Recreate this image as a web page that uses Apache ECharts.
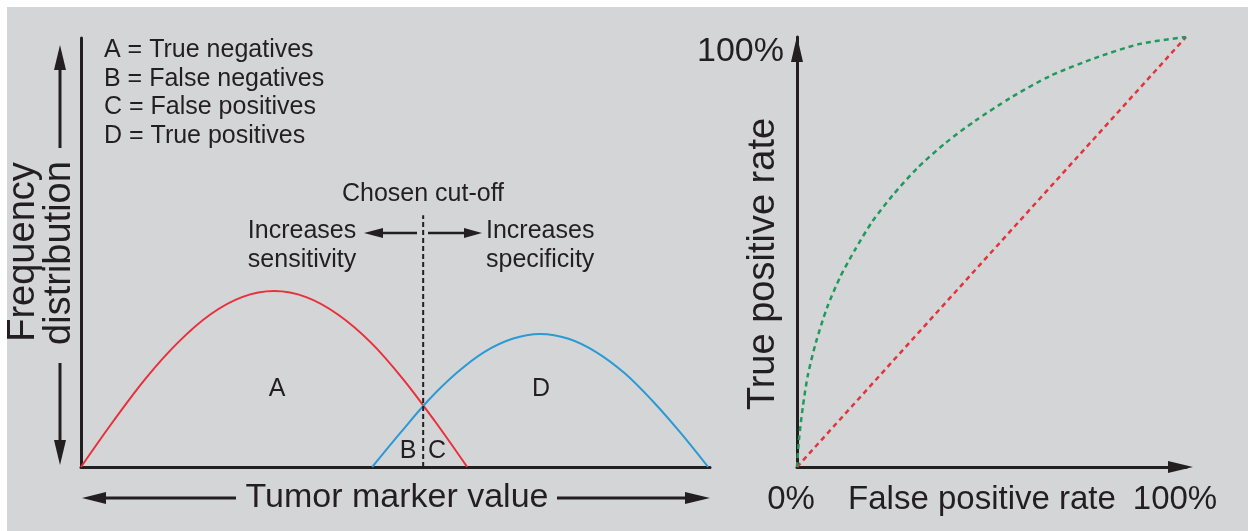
<!DOCTYPE html>
<html>
<head>
<meta charset="utf-8">
<script src="https://cdn.jsdelivr.net/npm/echarts@6/dist/echarts.min.js"></script>
<style>
  html, body { margin: 0; padding: 0; background: #ffffff; }
  #wrap { position: relative; width: 1248px; height: 531px; overflow: hidden; }
  #bg { position: absolute; left: 7px; top: 7px; width: 1241px; height: 524px; background: #d4d5d7; }
  #chart { position: absolute; left: 0; top: 0; width: 1248px; height: 531px; }
</style>
</head>
<body>
<div id="wrap"><div id="bg"></div><div id="chart"></div></div>
<script>
// ---- data ----
// Left panel: frequency distributions vs tumor marker value (0..100 scale)
const negX = [0, 5.1, 10.2, 15.4, 20.5, 25.6, 30.7, 35.8, 40.9, 46.1, 51.2, 56.3, 61.4];
const negY = [0, 10.6, 20.5, 29.0, 35.5, 39.6, 41.0, 39.6, 35.5, 29.0, 20.5, 10.6, 0];
const posX = [46.3, 50.8, 55.2, 59.7, 64.1, 68.6, 73.0, 77.5, 81.9, 86.4, 90.8, 95.3, 99.7];
const posY = [0, 8.0, 15.5, 21.9, 26.8, 29.9, 31.0, 29.9, 26.8, 21.9, 15.5, 8.0, 0];
const cutoffX = [54.4, 54.4];
const cutoffY = [0, 58.7];
// Right panel: ROC curve (false positive rate vs true positive rate, %)
const rocX = [0, 0.5, 1.5, 2.8, 4.9, 7.7, 11.1, 14.9, 19.3, 24.7, 30.9, 38.1, 45.8, 54.8, 65.0, 76.6, 88.2, 100];
const rocY = [0, 6.3, 14.0, 21.4, 29.1, 37.0, 44.2, 50.5, 57.0, 63.3, 69.5, 75.3, 80.5, 85.8, 90.9, 95.1, 98.4, 100];
const chanceX = [0, 100];
const chanceY = [0, 100];
// Text labels
const legendLines = ['A = True negatives', 'B = False negatives', 'C = False positives', 'D = True positives'];
const regionLetters = ['A', 'B', 'C', 'D'];
const leftAxisTitle = ['Frequency', 'distribution'];
const bottomLeftTitle = 'Tumor marker value';
const cutoffTitle = 'Chosen cut-off';
const cutoffLeft = ['Increases', 'sensitivity'];
const cutoffRight = ['Increases', 'specificity'];
const rocYTitle = 'True positive rate';
const rocXTitle = 'False positive rate';
const rocTicks = ['0%', '100%'];

// ---- chart ----
const INK = '#231f20';
const FONT = "'Liberation Sans', Arial, Helvetica, sans-serif";
const pairs = (xs, ys) => xs.map((x, i) => [x, ys[i]]);

function txt(x, y, s, size, align, rot) {
  return {
    type: 'text', x: x, y: y, rotation: rot || 0, z: 10,
    style: { text: s, fontSize: size, fontFamily: FONT, fill: INK,
             align: align || 'center', verticalAlign: 'middle' }
  };
}
function seg(x1, y1, x2, y2, w) {
  return { type: 'line', z: 10, shape: { x1, y1, x2, y2 }, style: { stroke: INK, lineWidth: w || 3 } };
}
function tri(pts) {
  return { type: 'polygon', z: 10, shape: { points: pts }, style: { fill: INK } };
}

const graphics = [];
legendLines.forEach((s, i) => graphics.push(txt(104, 50 + i * 28.7, s, 25, 'left')));
graphics.push(txt(277, 389, regionLetters[0], 25));
graphics.push(txt(408, 451, regionLetters[1], 25));
graphics.push(txt(437, 451, regionLetters[2], 25));
graphics.push(txt(541, 389, regionLetters[3], 25));
graphics.push(txt(423, 194, cutoffTitle, 25));
graphics.push(txt(302, 231, cutoffLeft[0], 25));
graphics.push(txt(302, 260, cutoffLeft[1], 25));
graphics.push(txt(486, 231, cutoffRight[0], 25, 'left'));
graphics.push(txt(486, 260, cutoffRight[1], 25, 'left'));
// cut-off direction arrows
graphics.push(seg(380, 233, 417, 233, 2.5), tri([[364, 233], [383, 228], [383, 238]]));
graphics.push(seg(428, 233, 466, 233, 2.5), tri([[482, 233], [464, 228], [464, 238]]));
// left axis title and arrows
graphics.push(txt(24, 252, leftAxisTitle[0], 38, 'center', Math.PI / 2));
graphics.push(txt(60, 253, leftAxisTitle[1], 38, 'center', Math.PI / 2));
graphics.push(seg(60, 66, 60, 148), tri([[60, 45], [54, 70], [66, 70]]));
graphics.push(seg(60, 363, 60, 444), tri([[60, 465], [54, 440], [66, 440]]));
// bottom-left title and arrows
graphics.push(txt(397, 498, bottomLeftTitle, 34));
graphics.push(seg(103, 498, 236, 498), tri([[82, 498], [106, 492], [106, 504]]));
graphics.push(seg(557, 498, 688, 498), tri([[710, 498], [685, 492], [685, 504]]));
// ROC axis arrow heads
graphics.push(tri([[797, 36], [791, 62], [803, 62]]));
graphics.push(tri([[1193, 467], [1168, 461], [1168, 473]]));
// ROC labels
graphics.push(txt(764, 264, rocYTitle, 38, 'center', Math.PI / 2));
graphics.push(txt(784, 52, rocTicks[1], 34, 'right'));
graphics.push(txt(791, 500, rocTicks[0], 33));
graphics.push(txt(982, 500, rocXTitle, 33));
graphics.push(txt(1175, 500, rocTicks[1], 33));

const plainAxis = (gi) => ({
  type: 'value', gridIndex: gi, min: 0, max: 100,
  axisLine: { show: true, onZero: false, lineStyle: { color: INK, width: 3 } },
  axisTick: { show: false }, axisLabel: { show: false }, splitLine: { show: false }
});

const option = {
  animation: false,
  backgroundColor: 'transparent',
  grid: [
    { left: 81, right: 538, top: 38, bottom: 64 },
    { left: 797, right: 62, top: 37, bottom: 64 }
  ],
  xAxis: [plainAxis(0), plainAxis(1)],
  yAxis: [plainAxis(0), plainAxis(1)],
  series: [
    { type: 'line', xAxisIndex: 0, yAxisIndex: 0, data: pairs(negX, negY), smooth: 0.35,
      symbol: 'none', lineStyle: { color: '#e8303a', width: 2 }, z: 3 },
    { type: 'line', xAxisIndex: 0, yAxisIndex: 0, data: pairs(posX, posY), smooth: 0.35,
      symbol: 'none', lineStyle: { color: '#2b9ad4', width: 2 }, z: 3 },
    { type: 'line', xAxisIndex: 0, yAxisIndex: 0, data: pairs(cutoffX, cutoffY),
      symbol: 'none', lineStyle: { color: INK, width: 2, type: [5, 3] }, z: 4 },
    { type: 'line', xAxisIndex: 1, yAxisIndex: 1, data: pairs(chanceX, chanceY),
      symbol: 'none', lineStyle: { color: '#e2343c', width: 2.5, type: [5, 4] }, z: 3 },
    { type: 'line', xAxisIndex: 1, yAxisIndex: 1, data: pairs(rocX, rocY), smooth: 0.25,
      symbol: 'none', lineStyle: { color: '#1f9a5c', width: 2.5, type: [5, 4] }, z: 3 }
  ],
  graphic: { elements: graphics }
};

const chart = echarts.init(document.getElementById('chart'), null, { renderer: 'canvas' });
chart.setOption(option);
</script>
</body>
</html>
